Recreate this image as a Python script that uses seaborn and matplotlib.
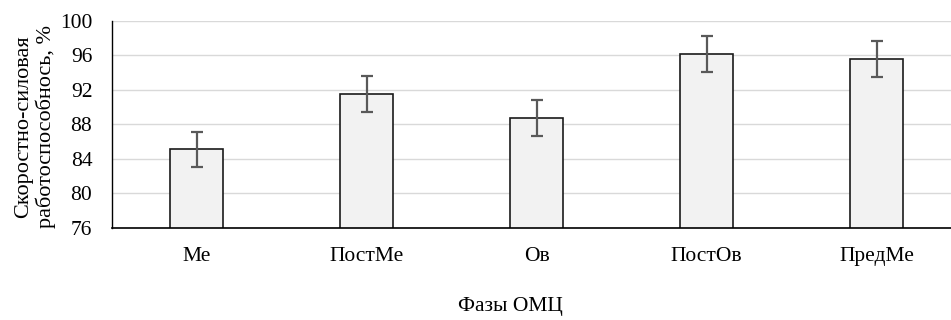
import matplotlib
matplotlib.use("Agg")
import matplotlib.pyplot as plt
import seaborn as sns
import pandas as pd
import numpy as np

categories = ["Ме", "ПостМе", "Ов", "ПостОв", "ПредМе"]
values = [85.1, 91.5, 88.75, 96.15, 95.6]
errors = [2.07, 2.08, 2.06, 2.08, 2.08]
yticks = [76, 80, 84, 88, 92, 96, 100]

sns.set_theme(style="white")
plt.rcParams['font.family'] = ['Liberation Serif', 'DejaVu Serif']

fig = plt.figure(figsize=(9.51, 3.2), dpi=100)
ax = fig.add_axes([0.1175, 0.2875, 0.8825, 0.6475])

df = pd.DataFrame({"phase": categories, "value": values})
sns.barplot(data=df, x="phase", y="value", ax=ax, color="#f2f2f2",
            edgecolor="#1a1a1a", linewidth=1.2, width=0.314, errorbar=None,
            saturation=1)
for p in ax.patches:
    p.set_facecolor("#f2f2f2")

ax.errorbar(np.arange(len(categories)), values, yerr=errors, fmt="none",
            ecolor="#595959", elinewidth=1.6, capsize=4, capthick=1.6, zorder=5)

ax.set_ylim(76, 100)
ax.set_yticks(yticks)
ax.set_xlim(-0.5, 4.437)
ax.yaxis.grid(True, color="#d9d9d9", linewidth=1.0)
ax.set_axisbelow(True)
for s in ["top", "right"]:
    ax.spines[s].set_visible(False)
ax.spines["left"].set_color("black")
ax.spines["bottom"].set_color("black")
ax.spines["left"].set_linewidth(1.0)
ax.spines["bottom"].set_linewidth(1.2)
ax.tick_params(axis="both", length=0, labelsize=15.5, colors="black")
ax.tick_params(axis="y", pad=14)
ax.tick_params(axis="x", pad=14)
ax.set_xlabel("")
ax.set_ylabel("Скоростно-силовая\nработоспособнось, %", fontsize=16,
              color="black", labelpad=3, linespacing=1.15)
ax.yaxis.label.set_y(0.49)
fig.text(0.537, 0.042, "Фазы ОМЦ", ha="center", va="center", fontsize=15.5,
         color="black")

fig.savefig("out.png", dpi=100)
